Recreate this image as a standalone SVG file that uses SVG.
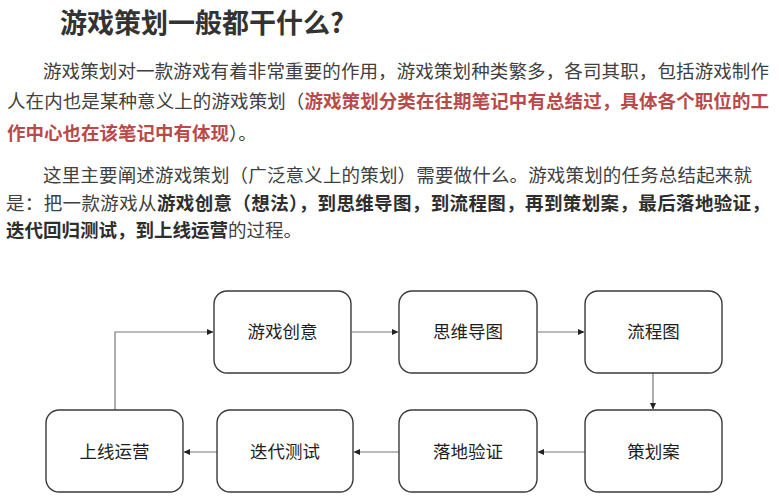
<svg xmlns="http://www.w3.org/2000/svg" width="779" height="500" viewBox="0 0 779 500">
<style>
  .t{font-family:"Noto Sans CJK SC","Noto Sans",sans-serif;fill:#404040}
  .title{font-size:27px;font-weight:700;fill:#333}
  .p{font-size:18.5px;font-weight:400}
  .b{font-weight:700;fill:#2e2e2e}
  .r{font-weight:700;fill:#b94a4a}
  .box{fill:#fff;stroke:#3a3a3a;stroke-width:1.4}
  .lbl{font-family:"Noto Sans CJK SC","Noto Sans",sans-serif;font-size:17.5px;font-weight:400;fill:#1e1e1e;text-anchor:middle}
  .edge{fill:none;stroke:#777;stroke-width:1.2}
</style>
<defs>
  <marker id="ah" markerWidth="7" markerHeight="7" refX="6" refY="3.5" orient="auto" markerUnits="userSpaceOnUse">
    <path d="M0,0.5 L6.5,3.5 L0,6.5 Z" fill="#222"/>
  </marker>
</defs>
<rect width="779" height="500" fill="#fff"/>
<text class="t title" x="60" y="33">游戏策划一般都干什么?</text>
<text class="t p" x="43" y="78" textLength="726" lengthAdjust="spacing">游戏策划对一款游戏有着非常重要的作用，游戏策划种类繁多，各司其职，包括游戏制作</text>
<text class="t p" x="7" y="108" textLength="762" lengthAdjust="spacing">人在内也是某种意义上的游戏策划（<tspan class="r">游戏策划分类在往期笔记中有总结过，具体各个职位的工</tspan></text>
<text class="t p" x="7" y="140"><tspan class="r">作中心也在该笔记中有体现</tspan>）。</text>
<text class="t p" x="43" y="182" textLength="709" lengthAdjust="spacing">这里主要阐述游戏策划（广泛意义上的策划）需要做什么。游戏策划的任务总结起来就</text>
<text class="t p" x="6" y="210" textLength="764" lengthAdjust="spacing">是：把一款游戏从<tspan class="b">游戏创意（想法），到思维导图，到流程图，再到策划案，最后落地验证，</tspan></text>
<text class="t p" x="6" y="237"><tspan class="b">迭代回归测试，到上线运营</tspan>的过程。</text>

<g id="connectors">
  <path class="edge" d="M115,410 V332 H213" marker-end="url(#ah)"/>
  <path class="edge" d="M352,332 H398" marker-end="url(#ah)"/>
  <path class="edge" d="M538,332 H584" marker-end="url(#ah)"/>
  <path class="edge" d="M653,373 V409" marker-end="url(#ah)"/>
  <path class="edge" d="M585,452 H538" marker-end="url(#ah)"/>
  <path class="edge" d="M399,452 H354" marker-end="url(#ah)"/>
  <path class="edge" d="M217,452 H184" marker-end="url(#ah)"/>
</g>

<g id="n1"><rect class="box" x="214" y="291" width="137" height="82" rx="13"/><text class="lbl" x="282.5" y="338">游戏创意</text></g>
<g id="n2"><rect class="box" x="399" y="291" width="138" height="82" rx="13"/><text class="lbl" x="468" y="338">思维导图</text></g>
<g id="n3"><rect class="box" x="585" y="291" width="137" height="82" rx="13"/><text class="lbl" x="653.5" y="338">流程图</text></g>
<g id="n4"><rect class="box" x="585" y="410" width="137" height="82" rx="13"/><text class="lbl" x="653.5" y="458">策划案</text></g>
<g id="n5"><rect class="box" x="399" y="410" width="138" height="82" rx="13"/><text class="lbl" x="468" y="458">落地验证</text></g>
<g id="n6"><rect class="box" x="217" y="410" width="136" height="82" rx="13"/><text class="lbl" x="285" y="458">迭代测试</text></g>
<g id="n7"><rect class="box" x="46" y="410" width="137" height="82" rx="13"/><text class="lbl" x="114.5" y="458">上线运营</text></g>
</svg>
